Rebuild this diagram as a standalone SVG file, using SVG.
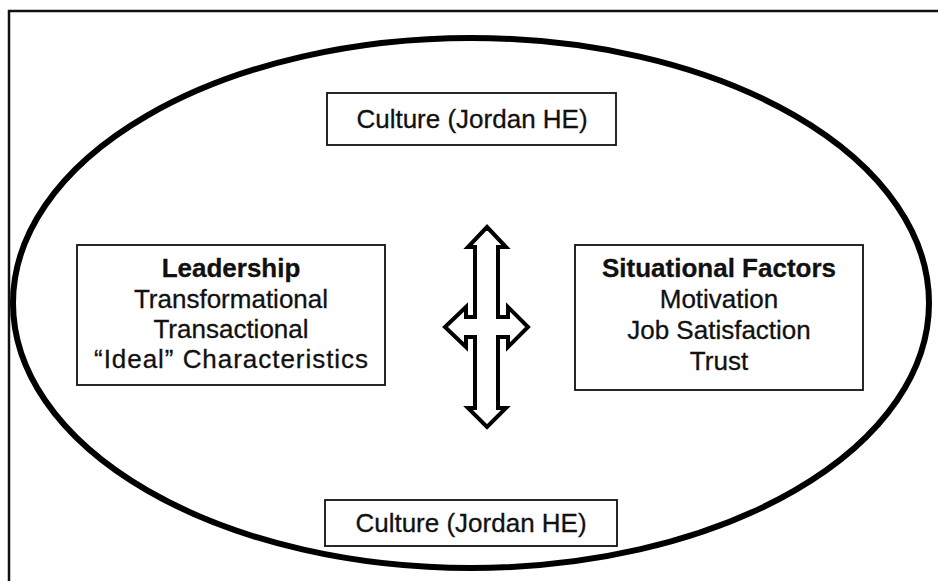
<svg xmlns="http://www.w3.org/2000/svg" width="938" height="581" viewBox="0 0 938 581">
<style>
.box{fill:#fff;stroke:#111;stroke-width:1.8}
.t{font-family:"Liberation Sans",Arial,sans-serif;font-size:26px;fill:#111;text-anchor:middle;stroke:#111;stroke-width:0.3}
.b{font-weight:bold}
</style>
<rect width="938" height="581" fill="#fff"/>
<g id="frame">
<polyline points="938,11 9,11 9,581" fill="none" stroke="#111" stroke-width="2.5"/>
</g>
<g id="ellipse">
<ellipse cx="471" cy="303" rx="458" ry="265" fill="none" stroke="#000" stroke-width="6"/>
</g>
<g id="culture-top">
<rect class="box" x="327" y="93" width="289" height="52"/>
<text class="t" x="472" y="128">Culture (Jordan HE)</text>
</g>
<g id="leadership">
<rect class="box" x="77" y="245" width="308" height="140"/>
<text class="t b" x="231" y="277">Leadership</text>
<text class="t" x="231" y="308">Transformational</text>
<text class="t" x="231" y="338">Transactional</text>
<text class="t" x="231" y="368" textLength="274" lengthAdjust="spacing">“Ideal” Characteristics</text>
</g>
<g id="situational">
<rect class="box" x="575" y="245" width="288" height="145"/>
<text class="t b" x="719" y="277">Situational Factors</text>
<text class="t" x="719" y="308">Motivation</text>
<text class="t" x="719" y="339">Job Satisfaction</text>
<text class="t" x="719" y="370">Trust</text>
</g>
<g id="culture-bottom">
<rect class="box" x="325" y="500" width="292" height="46"/>
<text class="t" x="471" y="532">Culture (Jordan HE)</text>
</g>
<g id="connectors">
<polygon points="487,227 506,247 498,247 498,317 508,317 508,307 528,327 508,347 508,337 498,337 498,408 506,408 487,427 468,408 475,408 475,337 466,337 466,347 445,327 466,307 466,317 475,317 475,247 468,247" fill="#fff" stroke="#000" stroke-width="4" stroke-linejoin="miter"/>
</g>
</svg>
